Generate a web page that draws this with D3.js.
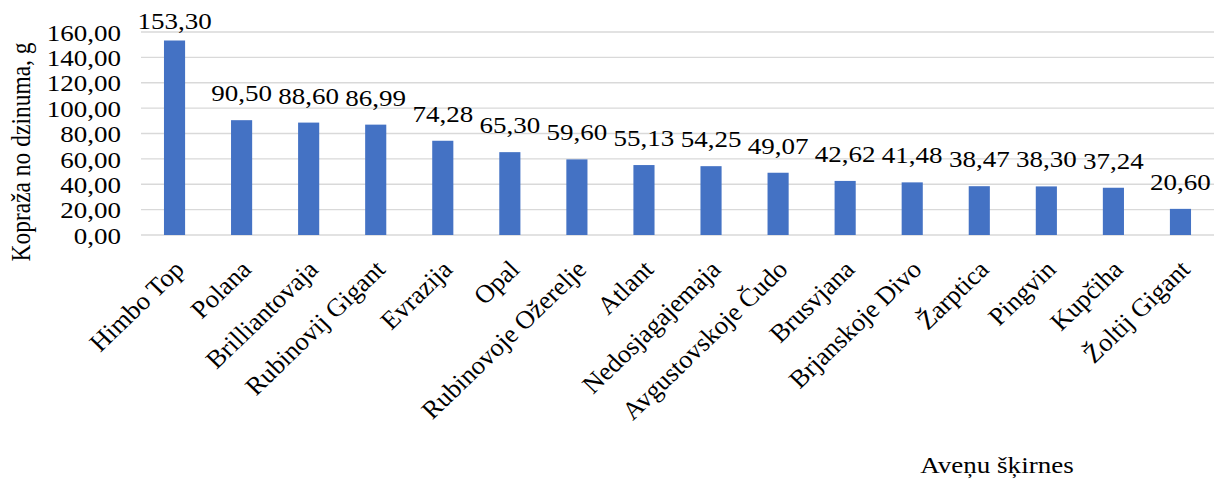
<!DOCTYPE html>
<html>
<head>
<meta charset="utf-8">
<script src="https://cdn.jsdelivr.net/npm/d3@7"></script>
<style>
  html, body { margin: 0; padding: 0; background: #fff; }
  svg { display: block; font-family: "Liberation Serif", "Times New Roman", serif; }
</style>
</head>
<body>
<svg id="chart" width="1215" height="479"></svg>
<script>
// Raspberry varieties and yield per shoot (g)
const categories = [
  "Himbo Top", "Polana", "Brilliantovaja", "Rubinovij Gigant", "Evrazija", "Opal",
  "Rubinovoje Ožerelje", "Atlant", "Nedosjagajemaja", "Avgustovskoje Čudo",
  "Brusvjana", "Brjanskoje Divo", "Žarptica", "Pingvin", "Kupčiha", "Žoltij Gigant"
];
const values = [153.30, 90.50, 88.60, 86.99, 74.28, 65.30, 59.60, 55.13, 54.25, 49.07,
  42.62, 41.48, 38.47, 38.30, 37.24, 20.60];
const yTicks = [0, 20, 40, 60, 80, 100, 120, 140, 160];
const yTitle = "Kopraža no dzinuma, g";
const xTitle = "Aveņu šķirnes";

const fmt = v => v.toFixed(2).replace(".", ",");

const FS = 23.5;      // text size
const SX = 1.15;      // slightly wide lettering

const svg = d3.select("#chart");
const m = { left: 141, right: 1214, top: 32, bottom: 235 };

const x = d3.scaleBand().domain(categories).range([m.left, m.right]).paddingInner(0.685).paddingOuter(0.3425);
const y = d3.scaleLinear().domain([0, 160]).range([m.bottom, m.top]);

// gridlines
svg.append("g")
  .selectAll("line")
  .data(yTicks)
  .join("line")
  .attr("x1", m.left).attr("x2", m.right)
  .attr("y1", d => y(d)).attr("y2", d => y(d))
  .attr("stroke", "#d9d9d9").attr("stroke-width", 1.3);

// y axis labels
const yAxis = d3.axisLeft(y).tickValues(yTicks).tickFormat(fmt).tickSize(0).tickPadding(0);
svg.append("g")
  .attr("transform", `translate(${121},0)`)
  .call(yAxis)
  .call(g => g.select(".domain").remove())
  .call(g => g.selectAll("text")
    .attr("font-family", "Liberation Serif")
    .attr("font-size", FS)
    .attr("fill", "#000")
    .attr("x", 0)
    .attr("dy", "0.35em")
    .attr("transform", `scale(${SX},1)`));

// bars
svg.append("g")
  .selectAll("rect")
  .data(values)
  .join("rect")
  .attr("x", (d, i) => x(categories[i]))
  .attr("width", x.bandwidth())
  .attr("y", d => y(d))
  .attr("height", d => y(0) - y(d))
  .attr("fill", "#4472c4");

// value labels (kept inside the top of the chart)
svg.append("g")
  .selectAll("text")
  .data(values)
  .join("text")
  .attr("transform", (d, i) =>
    `translate(${x(categories[i]) + x.bandwidth() / 2},${Math.max(y(d) - 19, 29)}) scale(${SX},1)`)
  .attr("text-anchor", "middle")
  .attr("font-size", FS)
  .attr("fill", "#000")
  .text(fmt);

// category labels, rotated
const xAxis = d3.axisBottom(x).tickSize(0).tickPadding(0);
svg.append("g")
  .attr("transform", `translate(0,${m.bottom})`)
  .call(xAxis)
  .call(g => g.select(".domain").remove())
  .call(g => g.selectAll("text")
    .attr("font-family", "Liberation Serif")
    .attr("font-size", 25.5)
    .attr("fill", "#000")
    .attr("text-anchor", "end")
    .attr("dy", 0)
    .attr("y", 0)
    .attr("transform", `translate(11,36) scale(1.04,1) rotate(-45)`));

// axis titles
svg.append("text")
  .attr("transform", `translate(30,152) scale(${SX},1) rotate(-90)`)
  .attr("text-anchor", "middle")
  .attr("font-size", FS)
  .attr("fill", "#000")
  .text(yTitle);

svg.append("text")
  .attr("transform", `translate(997,473) scale(${SX},1)`)
  .attr("text-anchor", "middle")
  .attr("font-size", FS)
  .attr("fill", "#000")
  .text(xTitle);
</script>
</body>
</html>
